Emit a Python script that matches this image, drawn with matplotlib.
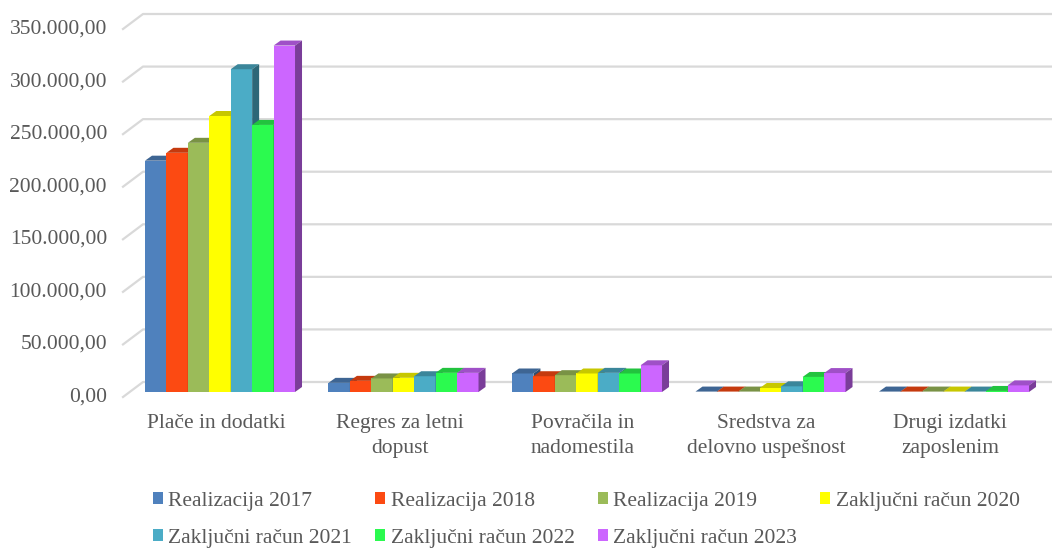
import numpy as np
import matplotlib.pyplot as plt
from matplotlib.patches import Polygon, Patch
from matplotlib.colors import to_rgb

plt.rcParams['font.family'] = ['Liberation Serif', 'DejaVu Serif']

categories = ['Plače in dodatki', 'Regres za letni\ndopust', 'Povračila in\nnadomestila',
              'Sredstva za\ndelovno uspešnost', 'Drugi izdatki\nzaposlenim']
series = ['Realizacija 2017', 'Realizacija 2018', 'Realizacija 2019', 'Zaključni račun 2020',
          'Zaključni račun 2021', 'Zaključni račun 2022', 'Zaključni račun 2023']
r2017 = [220000, 8700, 17600, 400, 400]
r2018 = [227500, 10600, 15000, 400, 400]
r2019 = [237000, 12900, 16000, 400, 400]
z2020 = [262500, 13500, 17600, 3800, 400]
z2021 = [307000, 15000, 18200, 5400, 400]
z2022 = [254000, 18200, 17600, 14300, 1000]
z2023 = [329500, 18200, 25400, 18000, 6300]
values = [r2017, r2018, r2019, z2020, z2021, z2022, z2023]
colors = ['#4F81BD', '#FC4A12', '#9BBB59', '#FFFF00', '#4BACC6', '#2BFA4F', '#CC66FF']
yticks = np.arange(0, 350001, 50000)

W, H = 1052, 548
fig = plt.figure(figsize=(W / 100, H / 100), dpi=100)

# bar plane in pixels
left_px, right_px, zero_px, top_px = 130, 1039, 392, 24
c0, step = 220, 183.5
ax = fig.add_axes([left_px / W, 1 - zero_px / H, (right_px - left_px) / W, (zero_px - top_px) / H])
x0, x1 = (left_px - c0) / step, (right_px - c0) / step
ax.set_xlim(x0, x1)
ax.set_ylim(0, 350000)
ax.axis('off')

ppx = step
ppy = (zero_px - top_px) / 350000
grey = '#595959'

# back wall gridlines + left diagonals
for t in yticks:
    fx, fy = x0 - 7 / ppx, t - 5 / ppy
    bx, by = x0 + 13 / ppx, t + 10 / ppy
    ex = x1 + 13 / ppx
    ax.plot([fx, bx, ex], [fy, by, by], color='#D9D9D9', lw=1.6, clip_on=False, zorder=0)
    lab = f'{t:,.2f}'.replace(',', 'X').replace('.', ',').replace('X', '.')
    ax.text(x0 - 23 / ppx, t - 5 / ppy, lab, ha='right', va='center', fontsize=15.5,
            color=grey, clip_on=False)


def shade(c, f):
    r, g, b = to_rgb(c)
    return (r * f, g * f, b * f)


n = len(series)
bw = 0.8176 / n
dx, dy = 7 / ppx, 5 / ppy
for ci in range(len(categories)):
    for si in range(n):
        v = values[si][ci]
        xl = ci - 0.4088 + si * bw
        xr = xl + bw
        col = colors[si]
        ax.add_patch(Polygon([(xl, 0), (xr, 0), (xr, v), (xl, v)], closed=True,
                             facecolor=col, edgecolor='none', zorder=2 + ci * 20 + si))
        ax.add_patch(Polygon([(xl, v), (xr, v), (xr + dx, v + dy), (xl + dx, v + dy)], closed=True,
                             facecolor=shade(col, 0.78), edgecolor='none', zorder=2 + ci * 20 + si))
        ax.add_patch(Polygon([(xr, 0), (xr + dx, dy), (xr + dx, v + dy), (xr, v)], closed=True,
                             facecolor=shade(col, 0.6), edgecolor='none', zorder=2 + ci * 20 + si))
    ax.text(ci - 4 / ppx, -22 / ppy, categories[ci], ha='center', va='top', fontsize=15.5,
            color=grey, linespacing=1.42, clip_on=False)

# legend, filled row by row
order = [0, 4, 1, 5, 2, 6, 3]
handles = [Patch(facecolor=colors[i], edgecolor='none') for i in order]
labels = [series[i] for i in order]
fig.legend(handles, labels, loc='center left', bbox_to_anchor=(153 / W, 1 - 520 / H), ncol=4,
           frameon=False, fontsize=15.5, handlelength=0.47, handleheight=0.47, handletextpad=0.25,
           columnspacing=1.07, labelspacing=0.84, borderpad=0, borderaxespad=0, labelcolor=grey)

fig.savefig('out.png', dpi=100)
